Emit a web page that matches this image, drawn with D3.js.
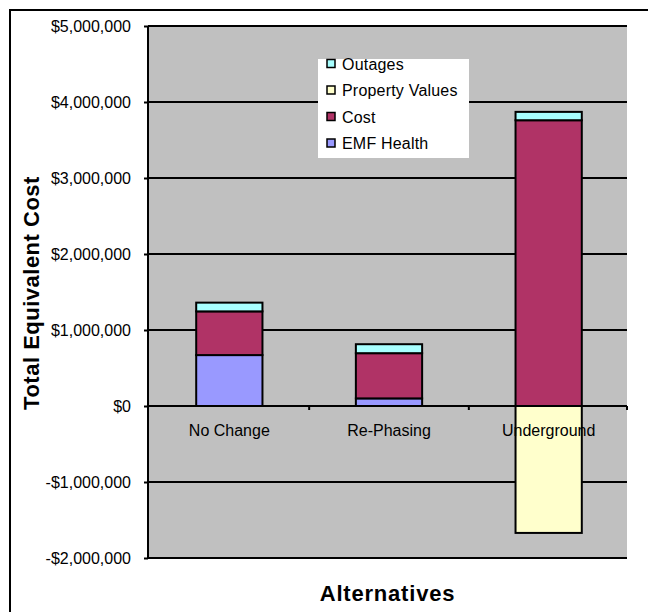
<!DOCTYPE html>
<html>
<head>
<meta charset="utf-8">
<script src="https://cdn.jsdelivr.net/npm/d3@7"></script>
<style>
  html, body { margin: 0; padding: 0; background: #fff; }
  svg { display: block; }
  text { font-family: "Liberation Sans", Arial, sans-serif; fill: #000; }
</style>
</head>
<body>
<svg id="chart" width="648" height="612"></svg>
<script>
// ---- data ----
const categories = ["No Change", "Re-Phasing", "Underground"];
const emfHealth = [670000, 100000, 0];
const cost = [575000, 595000, 3760000];
const propertyValues = [0, 0, -1670000];
const outages = [115000, 118000, 110000];
const seriesNames = ["EMF Health", "Cost", "Property Values", "Outages"];
const seriesColors = ["#9999FF", "#B03366", "#FFFFCC", "#A8FFFF"];
const yTicks = [-2000000, -1000000, 0, 1000000, 2000000, 3000000, 4000000, 5000000];
const yTitle = "Total Equivalent Cost";
const xTitle = "Alternatives";

const rows = categories.map((c, i) => ({
  cat: c,
  "EMF Health": emfHealth[i],
  "Cost": cost[i],
  "Property Values": propertyValues[i],
  "Outages": outages[i]
}));

const svg = d3.select("#chart");
const L = 148, R = 627, T = 26, B = 558;

const x = d3.scaleBand().domain(categories).range([L + 1.5, R + 1.5]).paddingInner(0.585).paddingOuter(0.2925);
const y = d3.scaleLinear().domain([-2000000, 5000000]).range([B, T]);
const color = d3.scaleOrdinal().domain(seriesNames).range(seriesColors);

// outer border (left and top visible)
svg.append("path").attr("d", `M10,612 L10,10 L648,10`).attr("fill", "none").attr("stroke", "#000").attr("stroke-width", 2);

// plot area
svg.append("rect").attr("x", L).attr("y", T).attr("width", R - L).attr("height", B - T).attr("fill", "#C0C0C0");

// gridlines
svg.append("g").selectAll("line").data(yTicks.filter(d => d !== 0)).join("line")
  .attr("x1", L).attr("x2", R)
  .attr("y1", d => y(d)).attr("y2", d => y(d))
  .attr("stroke", "#000").attr("stroke-width", 2);

// stacked bars
const stack = d3.stack().keys(seriesNames).offset(d3.stackOffsetDiverging);
const layers = stack(rows);
svg.append("g").selectAll("g").data(layers).join("g")
  .attr("fill", d => color(d.key))
  .selectAll("rect").data(d => d.filter(p => p[1] !== p[0])).join("rect")
  .attr("x", d => x(d.data.cat))
  .attr("width", x.bandwidth())
  .attr("y", d => y(Math.max(d[0], d[1])))
  .attr("height", d => Math.abs(y(d[0]) - y(d[1])))
  .attr("stroke", "#000").attr("stroke-width", 2);

// y axis
const yAxis = d3.axisLeft(y).tickValues(yTicks).tickSize(4).tickPadding(13)
  .tickFormat(d => (d < 0 ? "-$" : "$") + d3.format(",")(Math.abs(d)));
const ya = svg.append("g").attr("transform", `translate(${L},0)`).call(yAxis);
ya.select(".domain").attr("stroke", "#000").attr("stroke-width", 2).attr("d", `M0,${T}V${B}`);
ya.selectAll(".tick line").attr("stroke", "#000").attr("stroke-width", 2);
ya.selectAll(".tick text").attr("font-size", 16).attr("font-family", "Liberation Sans, Arial, sans-serif").attr("fill", "#000");

// category axis at zero
const xAxis = d3.axisBottom(x).tickSize(0).tickPadding(19);
const xa = svg.append("g").attr("transform", `translate(0,${y(0)})`).call(xAxis);
xa.select(".domain").attr("stroke", "#000").attr("stroke-width", 2).attr("d", `M${L},0H${R}`);
xa.selectAll(".tick text").attr("font-size", 16).attr("font-family", "Liberation Sans, Arial, sans-serif").attr("fill", "#000");
// tick marks between categories
const bounds = categories.map(c => x(c) - x.step() * x.paddingInner() / 2).slice(1).concat([R]);
xa.append("g").selectAll("line").data(bounds).join("line")
  .attr("x1", d => d).attr("x2", d => d).attr("y1", 0).attr("y2", 4)
  .attr("stroke", "#000").attr("stroke-width", 2);

// axis titles
svg.append("text").attr("transform", `translate(39,293) rotate(-90)`)
  .attr("text-anchor", "middle").attr("font-weight", "bold").attr("font-size", 22)
  .attr("letter-spacing", 0.5).text(yTitle);
svg.append("text").attr("x", (L + R) / 2).attr("y", 601)
  .attr("text-anchor", "middle").attr("font-weight", "bold").attr("font-size", 22)
  .attr("letter-spacing", 0.8).text(xTitle);

// legend
const legendOrder = seriesNames.slice().reverse();
const lg = svg.append("g");
lg.append("rect").attr("x", 318).attr("y", 59).attr("width", 151).attr("height", 99).attr("fill", "#fff");
const items = lg.selectAll("g").data(legendOrder).join("g")
  .attr("transform", (d, i) => `translate(327,${63.5 + i * 26.5})`);
items.append("rect").attr("x", 0).attr("y", -4).attr("width", 8).attr("height", 8)
  .attr("fill", d => color(d)).attr("stroke", "#000").attr("stroke-width", 1.5);
items.append("text").attr("x", 15).attr("y", 6).attr("font-size", 16).attr("letter-spacing", 0.2).text(d => d);
</script>
</body>
</html>
